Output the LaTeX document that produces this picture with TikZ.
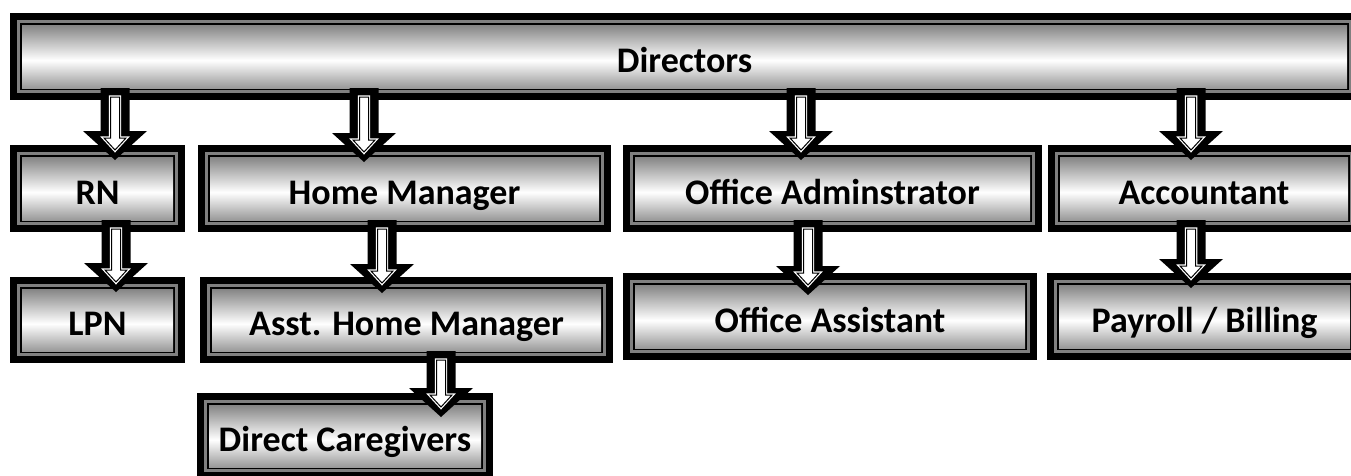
\documentclass[tikz,border=0pt]{standalone}
\usepackage{fontspec}
\setmainfont{Carlito}
\usepackage{tikz}
\usetikzlibrary{calc}

\definecolor{shadetop}{gray}{0.52}
\definecolor{shadebot}{gray}{0.60}
\definecolor{ring}{gray}{0.50}
\pgfdeclareverticalshading{silver}{100bp}{color(0bp)=(shadebot); color(25bp)=(shadebot); color(47bp)=(white); color(75bp)=(shadetop); color(100bp)=(shadetop)}

% x position, from, to, how far the tip runs into the lower box
\newcommand{\blockarrow}[4]{%
  \coordinate (s) at (#1,0 |- #2.south);
  \coordinate (t) at ($(#1,0 |- #3.north)+(0,#4)$);
  \fill[black] ($(s)+(-14.5,0)$) -- ($(s)+(14.5,0)$) -- ($(t)+(14.5,-29)$) -- ($(t)+(32,-29)$)
    -- (t) -- ($(t)+(-32,-29)$) -- ($(t)+(-14.5,-29)$) -- cycle;
  \draw[inner] ($(s)+(-4.5,9)$) -- ($(s)+(4.5,9)$) -- ($(t)+(4.5,-22)$) -- ($(t)+(11,-22)$)
    -- ($(t)+(0,-10)$) -- ($(t)+(-11,-22)$) -- ($(t)+(-4.5,-22)$) -- cycle;
}

\tikzset{dims/.style 2 args={minimum width=#1*0.75pt, minimum height=#2*0.75pt}}

\begin{document}
\begin{tikzpicture}[x=0.75pt, y=-0.75pt]
    \tikzstyle{post}=[rectangle, inner sep=0pt, outer sep=0pt, shading=silver, text=black,
        font=\fontsize{27}{32}\selectfont\bfseries, text height=23.4pt, text depth=0pt,
        preaction={draw=black, line width=18pt},
        preaction={draw=ring, line width=7.5pt},
        preaction={draw=black, line width=3pt}]
    \tikzstyle{inner}=[draw=black, line width=0.75pt, fill=white, line join=miter,
        preaction={draw=white, line width=2.6pt}]

    \useasboundingbox (0,0) rectangle (1351,475);

    \node[post, dims={1325}{63}] (dir) at (684.5,56.5) {Directors};

    \node[post, dims={151}{63}] (rn) at (97.5,188.5) {RN};
    \node[post, dims={389}{63}] (hm) at (404.5,188.5) {Home Manager};
    \node[post, dims={395}{63}] (oa) at (832.5,188.5) {Office Adminstrator};
    \node[post, dims={288}{63}] (acc) at (1204,188.5) {Accountant};

    \node[post, dims={151}{62}] (lpn) at (97.5,320) {LPN};
    \node[post, dims={389}{62}] (ahm) at (406.5,320) {Asst. Home Manager};
    \node[post, dims={390}{63}] (oas) at (830,316.5) {Office Assistant};
    \node[post, dims={291}{63}] (pay) at (1204.5,316.5) {Payroll / Billing};

    \node[post, dims={272}{62}] (dc) at (345,436) {Direct Caregivers};

    \blockarrow{115}{dir}{rn}{3}
    \blockarrow{364}{dir}{hm}{5}
    \blockarrow{801}{dir}{oa}{3}
    \blockarrow{1191}{dir}{acc}{3}
    \blockarrow{116}{rn}{lpn}{3}
    \blockarrow{382}{hm}{ahm}{4}
    \blockarrow{808}{oa}{oas}{10}
    \blockarrow{1191}{acc}{pay}{3}
    \blockarrow{441}{ahm}{dc}{12}
\end{tikzpicture}
\end{document}
